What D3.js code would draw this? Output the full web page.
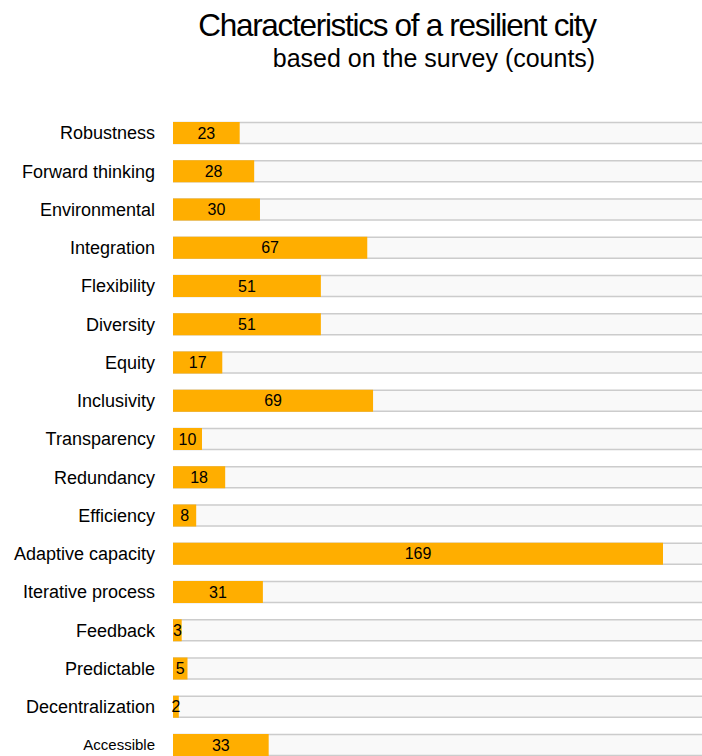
<!DOCTYPE html>
<html>
<head>
<meta charset="utf-8">
<script src="https://cdn.jsdelivr.net/npm/d3@7"></script>
<style>
  body { margin: 0; background: #fff; }
  text { font-family: "Liberation Sans", Arial, sans-serif; fill: #000; }
</style>
</head>
<body>
<svg width="702" height="756"></svg>
<script>
var categories = ["Robustness", "Forward thinking", "Environmental", "Integration", "Flexibility",
                  "Diversity", "Equity", "Inclusivity", "Transparency", "Redundancy", "Efficiency",
                  "Adaptive capacity", "Iterative process", "Feedback", "Predictable",
                  "Decentralization", "Accessible"];
var counts = [23, 28, 30, 67, 51, 51, 17, 69, 10, 18, 8, 169, 31, 3, 5, 2, 33];

var svg = d3.select("svg"),
    width = +svg.attr("width"),
    height = +svg.attr("height");

var left = 173;

var x = d3.scaleLinear()
    .domain([0, 169])
    .range([left, 663]);

var y = d3.scaleBand()
    .domain(categories)
    .range([122, 122 + 16 * 38.25 + 22])
    .paddingInner(0.425)
    .paddingOuter(0);

// titles
svg.append("text")
    .attr("x", 397)
    .attr("y", 36)
    .attr("text-anchor", "middle")
    .style("font-size", "31.5px")
    .style("letter-spacing", "-1.3px")
    .text("Characteristics of a resilient city");

svg.append("text")
    .attr("x", 434)
    .attr("y", 67)
    .attr("text-anchor", "middle")
    .style("font-size", "25px")
    .text("based on the survey (counts)");

var rows = svg.selectAll("g.row")
    .data(categories.map(function(c, i) { return { name: c, value: counts[i] }; }))
  .enter().append("g")
    .attr("class", "row")
    .attr("transform", function(d) { return "translate(0," + y(d.name) + ")"; });

// background track
rows.append("rect")
    .attr("x", left)
    .attr("y", 0)
    .attr("width", width - left + 10)
    .attr("height", y.bandwidth())
    .attr("fill", "#f9f9f9");

rows.append("line")
    .attr("x1", left).attr("x2", width + 10)
    .attr("y1", 0.5).attr("y2", 0.5)
    .attr("stroke", "#cccccc").attr("stroke-width", 1.5);

rows.append("line")
    .attr("x1", left).attr("x2", width + 10)
    .attr("y1", y.bandwidth() - 0.5).attr("y2", y.bandwidth() - 0.5)
    .attr("stroke", "#cccccc").attr("stroke-width", 1.5);

// value bar
rows.append("rect")
    .attr("x", left)
    .attr("y", 0)
    .attr("width", function(d) { return x(d.value) - left; })
    .attr("height", y.bandwidth())
    .attr("fill", "#ffae00");

// value label
rows.append("text")
    .attr("x", function(d) { return (left + x(d.value)) / 2; })
    .attr("y", y.bandwidth() / 2)
    .attr("dy", "0.35em")
    .attr("text-anchor", "middle")
    .style("font-size", "16px")
    .text(function(d) { return d.value; });

// category label
rows.append("text")
    .attr("x", 155)
    .attr("y", y.bandwidth() / 2)
    .attr("dy", "0.35em")
    .attr("text-anchor", "end")
    .style("font-size", function(d) { return d.name == "Accessible" ? "15px" : "18px"; })
    .text(function(d) { return d.name; });
</script>
</body>
</html>
